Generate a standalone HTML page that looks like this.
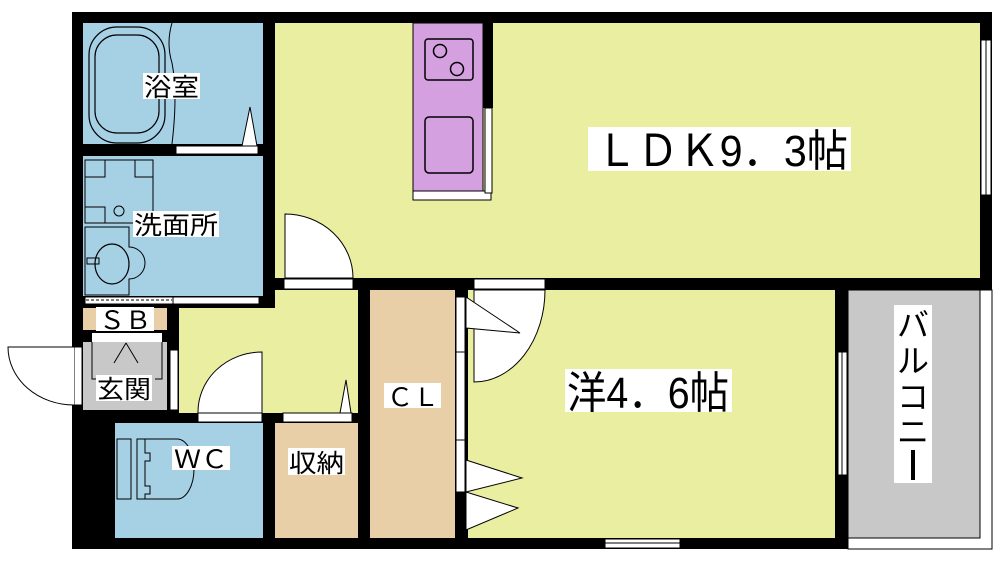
<!DOCTYPE html>
<html><head><meta charset="utf-8"><style>
html,body{margin:0;padding:0;background:#fff;}
svg{display:block;}
text{font-family:"Liberation Sans","Noto Sans CJK JP",sans-serif;fill:#000;}
</style></head><body>
<svg width="1000" height="562" viewBox="0 0 1000 562" xmlns="http://www.w3.org/2000/svg">
<rect x="72" y="12" width="920" height="537" fill="#000"/>
<rect x="848" y="290" width="144" height="259" fill="#fff" stroke="#000" stroke-width="1"/>
<rect x="848" y="290" width="132" height="248" fill="#c8c8c8" stroke="#000" stroke-width="1"/>
<rect x="275" y="23" width="705" height="255" fill="#eaeea0"/>
<rect x="981" y="40" width="10" height="155" fill="#fff" stroke="#000" stroke-width="1"/>
<line x1="986" y1="40" x2="986" y2="195" stroke="#000" stroke-width="1"/>
<rect x="413" y="23" width="70" height="168" fill="#d4a0e0" stroke="#000" stroke-width="1"/>
<rect x="413" y="191" width="78" height="9" fill="#fff" stroke="#000" stroke-width="1"/>
<rect x="483" y="23" width="10" height="85" fill="#000"/>
<rect x="485" y="108" width="7" height="85" fill="#fff" stroke="#000" stroke-width="1"/>
<rect x="425" y="39" width="48" height="41" rx="3" fill="none" stroke="#000" stroke-width="1.5"/>
<circle cx="440" cy="51" r="6.5" fill="none" stroke="#000" stroke-width="1.5"/>
<circle cx="457" cy="69" r="6.5" fill="none" stroke="#000" stroke-width="1.5"/>
<rect x="425" y="117" width="48" height="56" rx="4" fill="none" stroke="#000" stroke-width="1.5"/>
<rect x="83" y="23" width="180" height="121" fill="#a6d0e4"/>
<rect x="89" y="27" width="76" height="116" rx="28" fill="none" stroke="#000" stroke-width="1.2"/>
<rect x="95" y="35" width="64" height="98" rx="22" fill="none" stroke="#000" stroke-width="1.2"/>
<path d="M172 23 q-6 20 0 40 q6 30 0 81" fill="none" stroke="#000" stroke-width="1"/>
<polygon points="242,146 250,107 257,146" fill="#fff" stroke="#000" stroke-width="1"/>
<rect x="176" y="146" width="82" height="8" fill="#fff" stroke="#000" stroke-width="1"/>
<rect x="83" y="156" width="180" height="140" fill="#a6d0e4"/>
<rect x="85" y="160" width="68" height="63" fill="none" stroke="#000" stroke-width="1"/>
<path d="M85 177h20v-17M153 177h-18v-17M85 207h20v16" fill="none" stroke="#000" stroke-width="1"/>
<circle cx="119" cy="211" r="5" fill="none" stroke="#000" stroke-width="1"/>
<path d="M85 227h44v20a10 10 0 0 1 0 32v16h-44z" fill="none" stroke="#000" stroke-width="1"/>
<ellipse cx="112" cy="264" rx="17" ry="20" fill="none" stroke="#000" stroke-width="1.2"/>
<rect x="87" y="258" width="12" height="6" fill="none" stroke="#000" stroke-width="1"/>
<rect x="85" y="297" width="88" height="7" fill="#fff" stroke="#000" stroke-width="1"/>
<line x1="86" y1="300" x2="172" y2="300" stroke="#000" stroke-width="1" stroke-dasharray="3,2"/>
<rect x="173" y="297" width="86" height="7" fill="#fff" stroke="#000" stroke-width="1"/>
<rect x="275" y="290" width="83" height="123" fill="#eaeea0"/>
<rect x="179" y="308" width="96" height="105" fill="#eaeea0"/>
<path d="M285 278 V214 A68 64 0 0 1 353 278 Z" fill="#fff" stroke="#000" stroke-width="1"/>
<rect x="284" y="279" width="69" height="10" fill="#fff" stroke="#000" stroke-width="1"/>
<rect x="83" y="308" width="84" height="22" fill="#e8cfa8"/>
<rect x="92" y="333" width="70" height="9" fill="#fff"/>
<rect x="83" y="342" width="84" height="68" fill="#c8c8c8"/>
<path d="M92 342v37h7M162 342v37h-7M126 343 l-12 20 M126 343 l12 20" fill="none" stroke="#000" stroke-width="1"/>
<rect x="170" y="350" width="8" height="60" fill="#fff" stroke="#000" stroke-width="1"/>
<rect x="74" y="347" width="8" height="58" fill="#fff" stroke="#000" stroke-width="1"/>
<path d="M74 347 H8 A66 58 0 0 0 74 405" fill="#fff" stroke="#000" stroke-width="1"/>
<path d="M198 413 A64 60 0 0 1 262 352 V413" fill="#fff" stroke="#000" stroke-width="1"/>
<rect x="198" y="413" width="64" height="9" fill="#fff" stroke="#000" stroke-width="1"/>
<rect x="283" y="413" width="69" height="9" fill="#fff" stroke="#000" stroke-width="1"/>
<polygon points="340,413 346,380 351,413" fill="#fff" stroke="#000" stroke-width="1"/>
<rect x="115" y="423" width="148" height="115" fill="#a6d0e4"/>
<rect x="117" y="439" width="14" height="60" fill="none" stroke="#000" stroke-width="1"/>
<path d="M137 439h40a17 30 0 0 1 0 60h-40z" fill="none" stroke="#000" stroke-width="1"/>
<path d="M145 439v14h5v8h-5v25h5v8h-5v5" fill="none" stroke="#000" stroke-width="1"/>
<rect x="275" y="423" width="83" height="115" fill="#e8cfa8"/>
<rect x="370" y="290" width="85" height="248" fill="#e8cfa8"/>
<rect x="456" y="297" width="9" height="55" fill="#fff" stroke="#000" stroke-width="1"/>
<rect x="456" y="352" width="9" height="140" fill="#fff" stroke="#000" stroke-width="1"/>
<rect x="456" y="440" width="9" height="52" fill="#fff" stroke="#000" stroke-width="1"/>
<rect x="468" y="290" width="367" height="248" fill="#eaeea0"/>
<rect x="474" y="279" width="71" height="10" fill="#fff" stroke="#000" stroke-width="1"/>
<path d="M474 290 H545 A71 92 0 0 1 474 382 Z" fill="#fff" stroke="#000" stroke-width="1"/>
<polygon points="466,297 520,333 466,328" fill="#fff" stroke="#000" stroke-width="1"/>
<polygon points="466,460 522,478 466,492" fill="#fff" stroke="#000" stroke-width="1"/>
<polygon points="466,492 518,508 466,530" fill="#fff" stroke="#000" stroke-width="1"/>
<rect x="838" y="352" width="9" height="123" fill="#fff" stroke="#000" stroke-width="1"/>
<line x1="842" y1="352" x2="842" y2="475" stroke="#000" stroke-width="1"/>
<rect x="605" y="539" width="75" height="9" fill="#fff" stroke="#000" stroke-width="1"/>
<line x1="605" y1="543" x2="680" y2="543" stroke="#000" stroke-width="1"/>
<rect x="143" y="73" width="57" height="26" fill="#fff"/>
<text x="144" y="96" font-size="25" textLength="55" lengthAdjust="spacingAndGlyphs">浴室</text>
<rect x="133" y="211" width="86" height="26" fill="#fff"/>
<text x="134" y="234" font-size="25" textLength="84" lengthAdjust="spacingAndGlyphs">洗面所</text>
<rect x="96" y="307" width="58" height="24" fill="#fff"/>
<text x="99" y="329" font-size="25" textLength="52" lengthAdjust="spacingAndGlyphs">ＳＢ</text>
<rect x="96" y="375" width="56" height="26" fill="#fff"/>
<text x="97" y="398" font-size="25" textLength="54" lengthAdjust="spacingAndGlyphs">玄関</text>
<rect x="172" y="446" width="58" height="24" fill="#fff"/>
<text x="174" y="468" font-size="25" textLength="54" lengthAdjust="spacingAndGlyphs">ＷＣ</text>
<rect x="288" y="448" width="57" height="27" fill="#fff"/>
<text x="289" y="472" font-size="25" textLength="55" lengthAdjust="spacingAndGlyphs">収納</text>
<rect x="384" y="383" width="57" height="25" fill="#fff"/>
<text x="387" y="406" font-size="25" textLength="52" lengthAdjust="spacingAndGlyphs">ＣＬ</text>
<rect x="588" y="127" width="263" height="44" fill="#fff"/>
<text x="596" y="166" font-size="44" textLength="252" lengthAdjust="spacingAndGlyphs">ＬＤＫ9．3帖</text>
<rect x="565" y="369" width="167" height="43" fill="#fff"/>
<text x="567" y="408" font-size="44" textLength="162" lengthAdjust="spacingAndGlyphs">洋4．6帖</text>
<rect x="894" y="305" width="38" height="178" fill="#fff"/>
<text x="913" y="336" font-size="32" text-anchor="middle">バ</text>
<text x="913" y="372" font-size="32" text-anchor="middle">ル</text>
<text x="913" y="408" font-size="32" text-anchor="middle">コ</text>
<text x="913" y="443" font-size="32" text-anchor="middle">ニ</text>
<rect x="911" y="450" width="4" height="30" fill="#000"/>
</svg>
</body></html>
